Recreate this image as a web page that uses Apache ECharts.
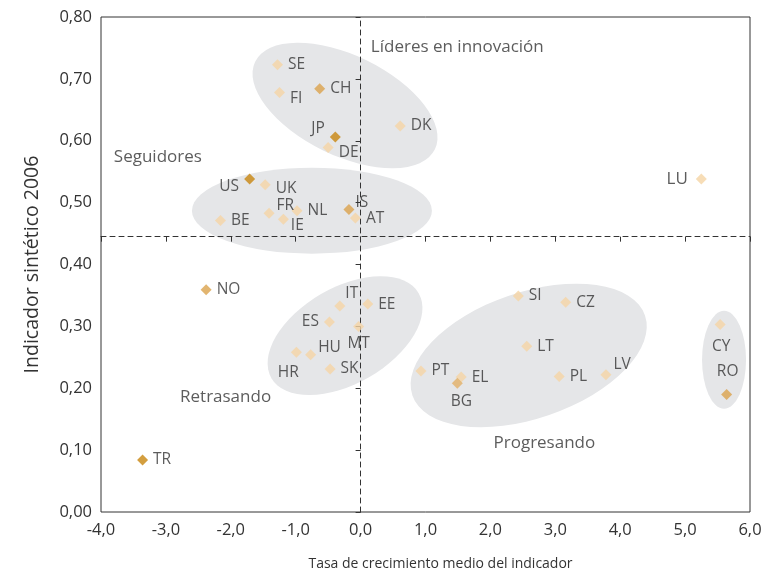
<!DOCTYPE html>
<html>
<head>
<meta charset="utf-8">
<script src="https://cdn.jsdelivr.net/npm/echarts@6/dist/echarts.min.js"></script>
<style>html,body{margin:0;padding:0;background:#fff}#c{width:763px;height:571px}</style>
</head>
<body>
<div id="c"></div>
<script>
// ---------- DATA ----------
const countries = ['SE','CH','FI','JP','DE','DK','US','UK','FR','NL','IE','BE','IS','AT','NO','IT','EE','ES','MT','HR','HU','SK','TR','PT','EL','BG','SI','CZ','LT','PL','LV','LU','CY','RO'];
const growthRate = [-1.28,-0.63,-1.25,-0.39,-0.50,0.61,-1.71,-1.47,-1.41,-0.98,-1.19,-2.16,-0.18,-0.08,-2.38,-0.32,0.11,-0.48,-0.03,-0.99,-0.77,-0.47,-3.36,0.93,1.55,1.49,2.43,3.16,2.56,3.06,3.78,5.25,5.54,5.64];
const indicator2006 = [0.723,0.684,0.678,0.606,0.589,0.624,0.538,0.529,0.483,0.487,0.473,0.471,0.489,0.475,0.359,0.333,0.336,0.307,0.300,0.258,0.254,0.231,0.084,0.228,0.218,0.208,0.349,0.339,0.268,0.219,0.222,0.538,0.303,0.190];
const tone = ['light','mid','light','dark','light','light','dark','light','light','light','light','light','mid','light','mid','light','light','light','light','light','light','light','dark','light','light','bg','light','light','light','light','light','light','light','mid'];
const xTicks = [-4,-3,-2,-1,0,1,2,3,4,5,6];
const yTicks = [0,0.1,0.2,0.3,0.4,0.5,0.6,0.7,0.8];
const crossX = 0;        // vertical dashed divider
const crossY = 0.445;    // horizontal dashed divider
const groupNames = ['Líderes en innovación','Seguidores','Retrasando','Progresando'];
const groupX = [0.15,-3.81,-2.79,2.04];
const groupY = [0.752,0.574,0.185,0.111];
const ellipseX = [-0.24,-0.75,-0.24,2.59,5.60];
const ellipseY = [0.657,0.487,0.285,0.253,0.246];

// ---------- STYLE ----------
const toneColor = {light:'#f5d4a5', mid:'#dba24c', dark:'#c8860f', bg:'#e2b067'};
const ellipseShape = [ {rx:100,ry:50,rot:-26}, {rx:120,ry:43,rot:0}, {rx:85,ry:48,rot:30}, {rx:123,ry:63,rot:19}, {rx:22,ry:49,rot:0} ];
const labelCfg = {
  FI:{pos:'right',off:[0,6]}, JP:{pos:'left',off:[0,-8]}, DE:{pos:'right',off:[0,5]},
  US:{pos:'left',off:[0,7]}, UK:{pos:'right',off:[0,4]}, FR:{pos:'right',off:[-3,-8]},
  IE:{pos:'right',off:[-3,6]}, IS:{pos:'right',off:[-4,-7]}, IT:{pos:'right',off:[-5,-12]},
  ES:{pos:'left',off:[0,0]}, MT:{pos:'bottom',off:[0,-1]}, HR:{pos:'bottom',off:[-8,2]},
  HU:{pos:'right',off:[-3,-7]}, BG:{pos:'bottom',off:[4,0]}, LV:{pos:'right',off:[-3,-10]},
  LU:{pos:'left',off:[-3,0], size:17}, CY:{pos:'bottom',off:[1,4]}, RO:{pos:'top',off:[1,-4]}
};
const fontFam = '"Open Sans", "Noto Sans", sans-serif';
const txt = '#333333';
const fmt = (v, d) => v.toFixed(d).replace('.', ',');

const chart = echarts.init(document.getElementById('c'), null, {renderer:'canvas'});
const gridCfg = {left:101, right:13, top:17, bottom:59, show:true, borderColor:'#333', borderWidth:1,
                 backgroundColor:'transparent', containLabel:false, outerBoundsMode:'none'};

const pointData = countries.map((c,i) => {
  const cfg = labelCfg[c] || {pos:'right', off:[0,0]};
  const lab = {position:cfg.pos, offset:cfg.off};
  if (cfg.size) lab.fontSize = cfg.size;
  return {
    name:c, value:[growthRate[i], indicator2006[i]],
    itemStyle:{color:toneColor[tone[i]]},
    label:lab
  };
});

function buildOption(xOff, yOff){
  return {
    animation:false,
    grid:gridCfg,
    xAxis:[
      {type:'value', min:xTicks[0], max:xTicks[xTicks.length-1], interval:1, position:'bottom',
       axisLine:{show:false, onZero:false}, axisTick:{show:false}, splitLine:{show:false},
       axisLabel:{formatter:v=>fmt(v,1), color:txt, fontSize:16.5, fontFamily:fontFam, margin:10},
       name:'Tasa de crecimiento medio del indicador', nameLocation:'middle', nameGap:45,
       nameTextStyle:{color:txt, fontSize:14, fontFamily:fontFam, padding:[0,0,0,30]}},
      {type:'value', min:xTicks[0], max:xTicks[xTicks.length-1], interval:1, position:'top', offset:xOff, z:3,
       axisLine:{show:true, onZero:false, lineStyle:{color:'#333', type:[5,4], width:1}},
       axisTick:{show:true, inside:true, length:5, lineStyle:{color:'#333'}},
       axisLabel:{show:false}, splitLine:{show:false}}
    ],
    yAxis:[
      {type:'value', min:yTicks[0], max:yTicks[yTicks.length-1], interval:0.1, position:'left',
       axisLine:{show:false, onZero:false}, axisTick:{show:false}, splitLine:{show:false},
       axisLabel:{formatter:v=>fmt(v,2), color:txt, fontSize:16.5, fontFamily:fontFam, margin:9},
       name:'Indicador sintético 2006', nameLocation:'middle', nameGap:59,
       nameTextStyle:{color:txt, fontSize:19.5, fontFamily:fontFam}},
      {type:'value', min:yTicks[0], max:yTicks[yTicks.length-1], interval:0.1, position:'right', offset:yOff, z:3,
       axisLine:{show:true, onZero:false, lineStyle:{color:'#333', type:[5,4], width:1}},
       axisTick:{show:true, inside:true, length:5, lineStyle:{color:'#333'}},
       axisLabel:{show:false}, splitLine:{show:false}}
    ],
    series:[
      {type:'custom', z:1, silent:true,
       data: ellipseX.map((x,i)=>[x, ellipseY[i]]),
       renderItem:(params, api)=>{
         const p = api.coord([api.value(0), api.value(1)]);
         const e = ellipseShape[params.dataIndex];
         return {type:'circle', x:p[0], y:p[1], rotation:e.rot*Math.PI/180, scaleX:e.rx/e.ry, scaleY:1,
                 shape:{cx:0, cy:0, r:e.ry}, style:{fill:'#e5e6e8', stroke:null}};
       }},
      {type:'scatter', z:5, symbol:'diamond', symbolSize:[11,11], data:pointData,
       label:{show:true, formatter:p=>p.name, color:txt, fontSize:15.5, fontFamily:fontFam, distance:5}},
      {type:'scatter', z:5, symbolSize:1, itemStyle:{color:'transparent'},
       data: groupNames.map((n,i)=>({name:n, value:[groupX[i], groupY[i]]})),
       label:{show:true, position:'right', distance:0, formatter:p=>p.name, color:txt, fontSize:17, fontFamily:fontFam}}
    ]
  };
}

chart.setOption(buildOption(0,0));
const crossPx = chart.convertToPixel({gridIndex:0}, [crossX, crossY]);
const gridTopPx = gridCfg.top, gridRightPx = 763 - gridCfg.right;
chart.setOption(buildOption(-(crossPx[1]-gridTopPx), -(gridRightPx-crossPx[0])));
</script>
</body>
</html>
